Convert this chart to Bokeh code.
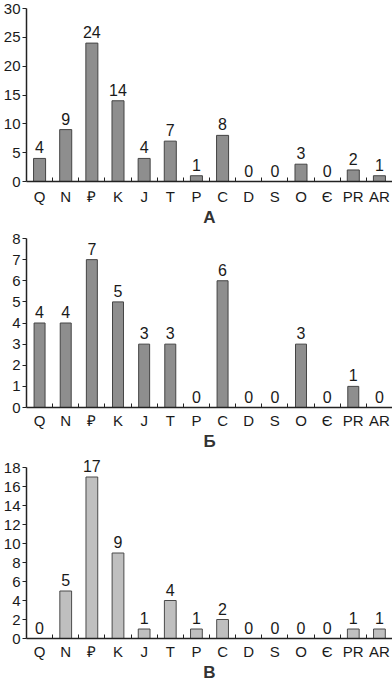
from bokeh.plotting import figure
from bokeh.layouts import column
from bokeh.models import Range1d, FixedTicker, ColumnDataSource, LabelSet
from bokeh.embed import file_html
from bokeh.resources import INLINE
from bokeh.core.properties import value

categories = ["Q", "N", "₽", "K", "J", "T", "P", "C", "D", "S", "O", "Є", "PR", "AR"]
values_a = [4, 9, 24, 14, 4, 7, 1, 8, 0, 0, 3, 0, 2, 1]
values_b = [4, 4, 7, 5, 3, 3, 0, 6, 0, 0, 3, 0, 1, 0]
values_v = [0, 5, 17, 9, 1, 4, 1, 2, 0, 0, 0, 0, 1, 1]
panel_titles = ["А", "Б", "В"]
y_max = [30, 8, 18]
y_step = [5, 1, 2]

FONT = "Liberation Sans"


def make_panel(vals, title, ymax, ystep, frame_h, top, extra, fill, line, bw, standoff):
    n = len(categories)
    xs = list(range(n))
    src = ColumnDataSource(dict(x=xs, y=vals, t=[str(v) for v in vals]))
    y_end = ymax * (frame_h + extra) / frame_h
    p = figure(frame_width=366, frame_height=frame_h + extra, output_backend="svg",
               toolbar_location=None,
               x_range=Range1d(-0.5, n - 0.5), y_range=Range1d(0, y_end),
               min_border_left=24, min_border_right=2, min_border_top=top,
               min_border_bottom=10)
    p.outline_line_color = None
    p.grid.visible = False
    p.background_fill_color = "white"
    p.border_fill_color = "white"
    p.vbar(x="x", top="y", width=bw, bottom=0, source=src,
           fill_color=fill, line_color=line, line_width=1)
    labels = LabelSet(x="x", y="y", text="t", source=src, text_align="center",
                      text_baseline="alphabetic", y_offset=5,
                      text_font=value(FONT),
                      text_font_size=value("16px"), text_color="#1a1a1a")
    p.add_layout(labels)
    # x axis
    xa = p.xaxis[0]
    xa.ticker = FixedTicker(ticks=xs, minor_ticks=[i + 0.5 for i in range(n - 1)])
    xa.major_label_overrides = {i: c for i, c in enumerate(categories)}
    xa.major_tick_in = 0
    xa.major_tick_out = 0
    xa.minor_tick_in = 4
    xa.minor_tick_out = 0
    xa.minor_tick_line_color = "#222222"
    xa.axis_line_color = "#222222"
    xa.axis_line_width = 1.5
    xa.major_label_text_font = FONT
    xa.major_label_text_font_size = "15px"
    xa.major_label_text_color = "#1a1a1a"
    xa.major_label_standoff = standoff
    xa.axis_label = title
    xa.axis_label_text_font = FONT
    xa.axis_label_text_font_size = "17px"
    xa.axis_label_text_font_style = "bold"
    xa.axis_label_text_color = "#333333"
    xa.axis_label_standoff = 0
    # y axis
    ya = p.yaxis[0]
    ya.bounds = (0, ymax)
    ya.ticker = FixedTicker(ticks=list(range(0, ymax + 1, ystep)), minor_ticks=[])
    ya.major_tick_in = 0
    ya.major_tick_out = 4
    ya.major_tick_line_color = "#222222"
    ya.axis_line_color = "#222222"
    ya.axis_line_width = 1.5
    ya.major_label_text_font = FONT
    ya.major_label_text_font_size = "15px"
    ya.major_label_text_color = "#1a1a1a"
    ya.major_label_standoff = 2
    return p


pa = make_panel(values_a, panel_titles[0], y_max[0], y_step[0], 173, 8, 0,
                "#8e8e8e", "#444444", 0.46, 6)
pb = make_panel(values_b, panel_titles[1], y_max[1], y_step[1], 169, 9, 0,
                "#8e8e8e", "#444444", 0.42, 4)
pv = make_panel(values_v, panel_titles[2], y_max[2], y_step[2], 171, 0, 14,
                "#bfbfbf", "#4a4a4a", 0.45, 4)

layout = column(pa, pb, pv, spacing=0)
open("out.html", "w").write(file_html(layout, INLINE))
